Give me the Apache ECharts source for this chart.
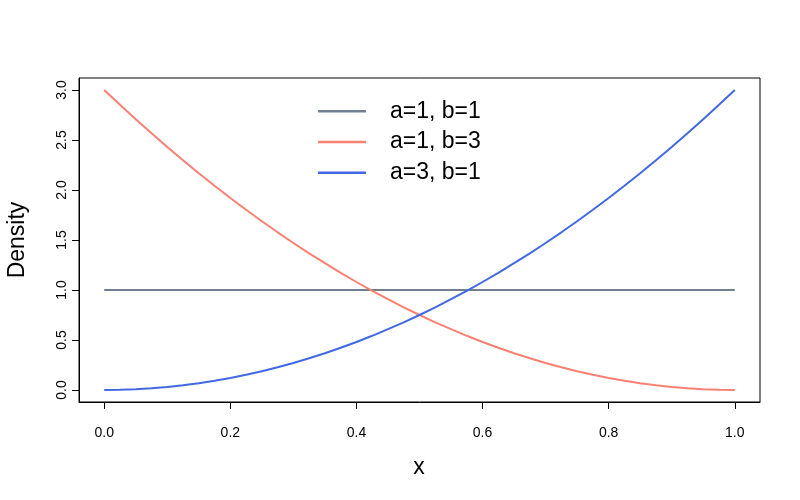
<!DOCTYPE html>
<html>
<head>
<meta charset="utf-8">
<script src="https://cdn.jsdelivr.net/npm/echarts@6/dist/echarts.min.js"></script>
<style>html,body{margin:0;padding:0;background:#fff}#c{width:800px;height:500px}</style>
</head>
<body>
<div id="c"></div>
<script>
var xs = [0,0.025,0.05,0.075,0.1,0.125,0.15,0.175,0.2,0.225,0.25,0.275,0.3,0.325,0.35,0.375,0.4,0.425,0.45,0.475,0.5,0.525,0.55,0.575,0.6,0.625,0.65,0.675,0.7,0.725,0.75,0.775,0.8,0.825,0.85,0.875,0.9,0.925,0.95,0.975,1];
var densA1B1 = [1,1,1,1,1,1,1,1,1,1,1,1,1,1,1,1,1,1,1,1,1,1,1,1,1,1,1,1,1,1,1,1,1,1,1,1,1,1,1,1,1];
var densA1B3 = [3,2.852,2.708,2.567,2.43,2.297,2.168,2.042,1.92,1.802,1.688,1.577,1.47,1.367,1.268,1.172,1.08,0.992,0.908,0.827,0.75,0.677,0.608,0.542,0.48,0.422,0.368,0.317,0.27,0.227,0.188,0.152,0.12,0.092,0.068,0.047,0.03,0.017,0.008,0.002,0];
var densA3B1 = [0,0.002,0.008,0.017,0.03,0.047,0.068,0.092,0.12,0.152,0.188,0.227,0.27,0.317,0.368,0.422,0.48,0.542,0.608,0.677,0.75,0.827,0.908,0.992,1.08,1.172,1.268,1.367,1.47,1.577,1.688,1.802,1.92,2.042,2.168,2.297,2.43,2.567,2.708,2.852,3];
var seriesNames = ['a=1, b=1','a=1, b=3','a=3, b=1'];
var xTicks = [0,0.2,0.4,0.6,0.8,1];
var yTicks = [0,0.5,1,1.5,2,2.5,3];
var colors = ['#708090','#FA8072','#4169E1'];

var X_MIN = -0.04, X_MAX = 1.04, Y_MIN = -0.12, Y_MAX = 3.12;
function pairs(ys){ return xs.map(function(x,i){ return [x, ys[i]]; }); }
var allY = [densA1B1, densA1B3, densA3B1];
var font = 'Liberation Sans, Arial, sans-serif';

var chart = echarts.init(document.getElementById('c'), null, {renderer:'canvas'});
chart.setOption({
  animation: false,
  backgroundColor: '#fff',
  grid: {left: 79, right: 40, top: 78, bottom: 98, show: true, borderColor: '#000', borderWidth: 1, backgroundColor: 'transparent'},
  xAxis: {
    type: 'value', min: X_MIN, max: X_MAX, position: 'bottom',
    axisLine: {show: true, onZero: false, lineStyle: {color: '#000', width: 1}},
    splitLine: {show: false},
    axisTick: {show: true, inside: false, length: 7, lineStyle: {color: '#000', width: 1}, customValues: xTicks},
    axisLabel: {show: true, margin: 24, color: '#000', fontSize: 14, fontFamily: font, customValues: xTicks,
      formatter: function(v){ return v.toFixed(1); }}
  },
  yAxis: {
    type: 'value', min: Y_MIN, max: Y_MAX, position: 'left',
    axisLine: {show: true, onZero: false, lineStyle: {color: '#000', width: 1}},
    splitLine: {show: false},
    axisTick: {show: true, inside: false, length: 7, lineStyle: {color: '#000', width: 1}, customValues: yTicks},
    axisLabel: {show: true, margin: 10, rotate: 90, color: '#000', fontSize: 14, fontFamily: font, customValues: yTicks,
      formatter: function(v){ return v.toFixed(1); }}
  },
  legend: {
    orient: 'vertical', left: 318, top: 96, itemWidth: 48, itemHeight: 2.5, itemGap: 0,
    icon: 'rect', padding: 0,
    textStyle: {fontSize: 23, fontFamily: font, color: '#000', lineHeight: 30.7, padding: [0,0,0,19]},
    data: seriesNames
  },
  graphic: [
    {type: 'text', x: 419, y: 468, style: {text: 'x', font: '23px ' + font, fill: '#000', align: 'center', verticalAlign: 'middle'}},
    {type: 'text', x: 18, y: 240, rotation: Math.PI/2, style: {text: 'Density', font: '23px ' + font, fill: '#000', align: 'center', verticalAlign: 'middle'}}
  ],
  series: seriesNames.map(function(n, i){
    return {name: n, type: 'line', data: pairs(allY[i]), showSymbol: false, smooth: false,
      lineStyle: {color: colors[i], width: 2}, itemStyle: {color: colors[i]}, z: 3 + i};
  })
});
</script>
</body>
</html>
